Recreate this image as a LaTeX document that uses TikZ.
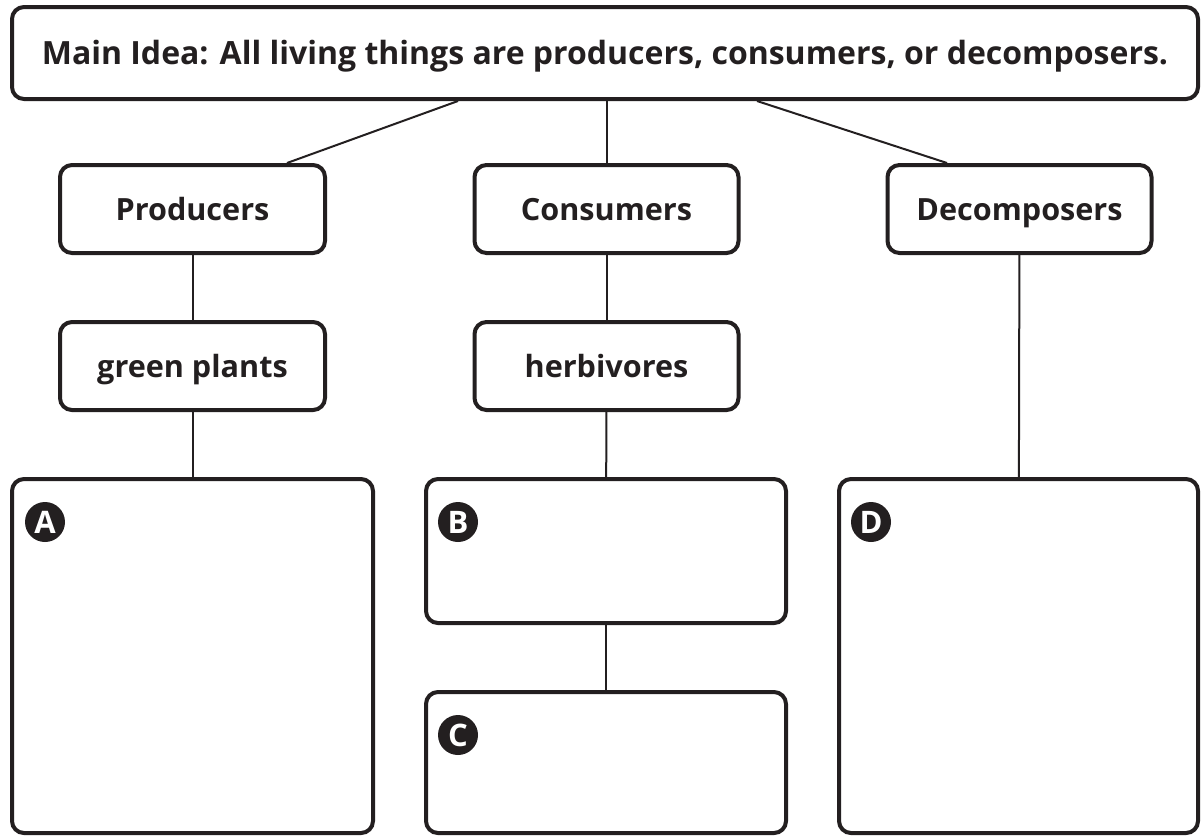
\documentclass[tikz,border=0pt]{standalone}
\usepackage{fontspec}
\setmainfont{Open Sans}
\usepackage{tikz}
\definecolor{ink}{HTML}{231F20}
\tikzset{
  box/.style={draw=ink, line width=2pt, rounded corners=6pt, text=ink, inner sep=0pt,
    text height=11pt, text depth=0pt, font=\bfseries\fontsize{15.3}{18}\selectfont},
  tag/.style={circle, fill=ink, text=white, minimum size=20pt, inner sep=0pt,
    font=\bfseries\fontsize{15.5}{18}\selectfont},
  link/.style={draw=ink, line width=1pt}
}

\begin{document}
\begin{tikzpicture}[x=0.5pt, y=-0.5pt]
\useasboundingbox (0,0) rectangle (1203,837);
% Boxes
\node[box, minimum width=593pt, minimum height=46pt, text height=11.4pt, font=\bfseries\fontsize{16}{19}\selectfont] (main) at (605,53) {Main Idea: All living things are producers, consumers, or decomposers.};
\node[box, minimum width=132.5pt, minimum height=44pt] (prod) at (192.5,209) {Producers};
\node[box, minimum width=132pt, minimum height=44pt] (cons) at (606.5,209) {Consumers};
\node[box, minimum width=132pt, minimum height=44pt] (decomp) at (1019.5,209) {Decomposers};
\node[box, minimum width=132.5pt, minimum height=44pt] (green) at (192.5,366) {green plants};
\node[box, minimum width=132pt, minimum height=44pt] (herb) at (606.5,366) {herbivores};
\node[box, minimum width=180.5pt, minimum height=177pt] (a) at (192.5,656) {};
\node[box, minimum width=180pt, minimum height=72pt] (b) at (606,551) {};
\node[box, minimum width=180pt, minimum height=70.5pt] (c) at (606,762.5) {};
\node[box, minimum width=179.5pt, minimum height=177pt] (d) at (1018.5,656) {};

% Letters
\node[tag] (ta) at ([shift={(35,45)}]a.north west) {A};
\node[tag] (tb) at ([shift={(34,45)}]b.north west) {B};
\node[tag] (tc) at ([shift={(34,45)}]c.north west) {C};
\node[tag] (td) at ([shift={(34,45)}]d.north west) {D};

%Lines
\draw[link] ([xshift=-73.5pt]main.south) -- ([xshift=47.25pt]prod.north);
\draw[link] (main.south -| cons.north) -- (cons.north);
\draw[link] ([xshift=76pt]main.south) -- ([xshift=-36.25pt]decomp.north);
\draw[link] (prod) -- (green);
\draw[link] (green) -- (a);
\draw[link] (cons) -- (herb);
\draw[link] (herb) -- (b);
\draw[link] (b) -- (c);
\draw[link] (decomp) -- (d);
\end{tikzpicture}
\end{document}
